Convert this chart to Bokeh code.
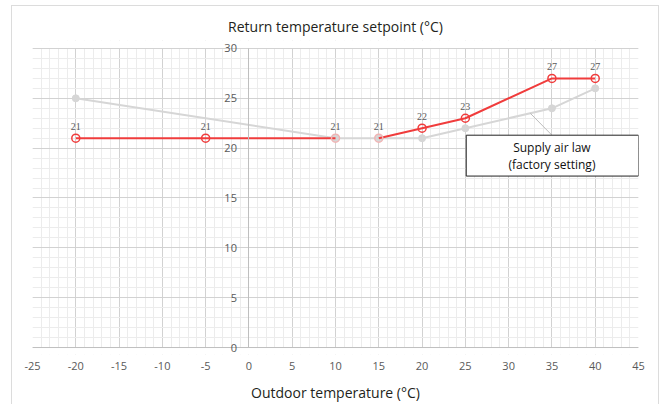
from bokeh.plotting import figure
from bokeh.layouts import column
from bokeh.models import FixedTicker, ColumnDataSource, LabelSet, Label, BoxAnnotation, Span
from bokeh.embed import file_html
from bokeh.resources import INLINE

# ---- data ----
x_ticks = [-25, -20, -15, -10, -5, 0, 5, 10, 15, 20, 25, 30, 35, 40, 45]
x_tick_labels = ["-25", "-20", "-15", "-10", "-5", "0", "5", "10", "15", "20",
                 "25", "30", "35", "40", "45"]
y_ticks = [0, 5, 10, 15, 20, 25, 30]
y_tick_labels = ["0", "5", "10", "15", "20", "25", "30"]

setpoint_x = [-20, -5, 10, 15, 20, 25, 35, 40]
setpoint_y = [21, 21, 21, 21, 22, 23, 27, 27]
setpoint_labels = ["21", "21", "21", "21", "22", "23", "27", "27"]

supply_x = [-20, 10, 15, 20, 25, 35, 40]
supply_y = [25, 21, 21, 21, 22, 24, 26]

FONT = "Open Sans"
RED = "#f03c3c"
GRAY = "#d6d6d6"
TXT = "#595959"

# y range padded a little so the "30" and "0" labels are not clipped
p = figure(width=646, height=398, x_range=(-25, 45), y_range=(-0.7, 30.8),
           output_backend="svg", toolbar_location=None,
           min_border_left=20, min_border_right=20, min_border_top=34, min_border_bottom=45,
           title="Return temperature setpoint (°C)")
p.outline_line_color = None
p.background_fill_color = "white"

p.title.align = "center"
p.title.text_font = FONT
p.title.text_font_size = "14px"
p.title.text_font_style = "normal"
p.title.text_color = "#231f20"
p.title.standoff = 9

# grids
p.xgrid.ticker = FixedTicker(ticks=x_ticks, minor_ticks=list(range(-25, 46)))
p.ygrid.ticker = FixedTicker(ticks=y_ticks, minor_ticks=list(range(0, 31)))
for g in (p.xgrid, p.ygrid):
    g.grid_line_color = "#d2d2d2"
    g.grid_line_width = 1
    g.minor_grid_line_color = "#ececec"
    g.minor_grid_line_width = 1

# white masks over the padding (drawn over the grid, under axes)
p.add_layout(BoxAnnotation(bottom=30.05, fill_color="white", fill_alpha=1,
                           line_color=None, level="underlay"))
p.add_layout(BoxAnnotation(top=-0.05, fill_color="white", fill_alpha=1,
                           line_color=None, level="underlay"))
p.add_layout(Span(location=0, dimension="width", line_color="#bfbfbf",
                  line_width=1, level="underlay"))

# x axis
xa = p.xaxis[0]
xa.ticker = FixedTicker(ticks=x_ticks)
xa.major_label_overrides = {t: s for t, s in zip(x_ticks, x_tick_labels)}
xa.axis_line_color = None
xa.major_tick_line_color = None
xa.minor_tick_line_color = None
xa.major_label_text_font = FONT
xa.major_label_text_font_size = "11px"
xa.major_label_text_color = TXT
xa.major_label_standoff = 1
xa.axis_label = "Outdoor temperature (°C)"
xa.axis_label_text_font = FONT
xa.axis_label_text_font_size = "14px"
xa.axis_label_text_font_style = "normal"
xa.axis_label_text_color = "#231f20"
xa.axis_label_standoff = 10

# y axis drawn at x = 0
ya = p.yaxis[0]
ya.fixed_location = 0
ya.bounds = (0, 30)
ya.ticker = FixedTicker(ticks=y_ticks)
ya.major_label_overrides = {t: s for t, s in zip(y_ticks, y_tick_labels)}
ya.axis_line_color = "#bfbfbf"
ya.major_tick_line_color = None
ya.minor_tick_line_color = None
ya.major_label_text_font = FONT
ya.major_label_text_font_size = "11px"
ya.major_label_text_color = TXT
ya.major_label_standoff = 6

# supply air law (gray)
p.line(supply_x, supply_y, line_color=GRAY, line_width=2)
p.scatter(supply_x, supply_y, size=7, fill_color=GRAY, line_color=GRAY)

# return setpoint (red) - break between 10 and 15
p.line(setpoint_x[:3], setpoint_y[:3], line_color=RED, line_width=2)
p.line(setpoint_x[3:], setpoint_y[3:], line_color=RED, line_width=2)
mcol = [RED, RED, "#f0b4b4", "#f0b4b4", RED, RED, RED, RED]
p.scatter(setpoint_x, setpoint_y, size=8, fill_color="white", fill_alpha=0.0,
          line_color=mcol, line_width=1.5)

lsrc = ColumnDataSource(dict(x=setpoint_x, y=setpoint_y, t=setpoint_labels))
p.add_layout(LabelSet(x="x", y="y", text="t", source=lsrc, y_offset=8,
                      text_align="center", text_baseline="bottom",
                      text_font=FONT, text_font_size="10px", text_color=TXT))

# callout
p.line([32.5, 35.0], [23.5, 21.3], line_color="#bdbdbd", line_width=1)
p.quad(left=25.1, right=45, bottom=17.2, top=21.3, fill_color="white",
       line_color="#222222", line_width=1)
p.add_layout(Label(x=35, y=19.25, text="Supply air law\n(factory setting)",
                   text_align="center", text_baseline="middle",
                   text_font=FONT, text_font_size="12px", text_color="#111111",
                   text_line_height=1.0))

page = column(p, styles={"margin-left": "11px", "margin-top": "5px",
                         "border-left": "1px solid #dcdcdc",
                         "border-right": "1px solid #dcdcdc",
                         "border-top": "1px solid #dcdcdc"})

open("out.html", "w").write(file_html(page, INLINE))
